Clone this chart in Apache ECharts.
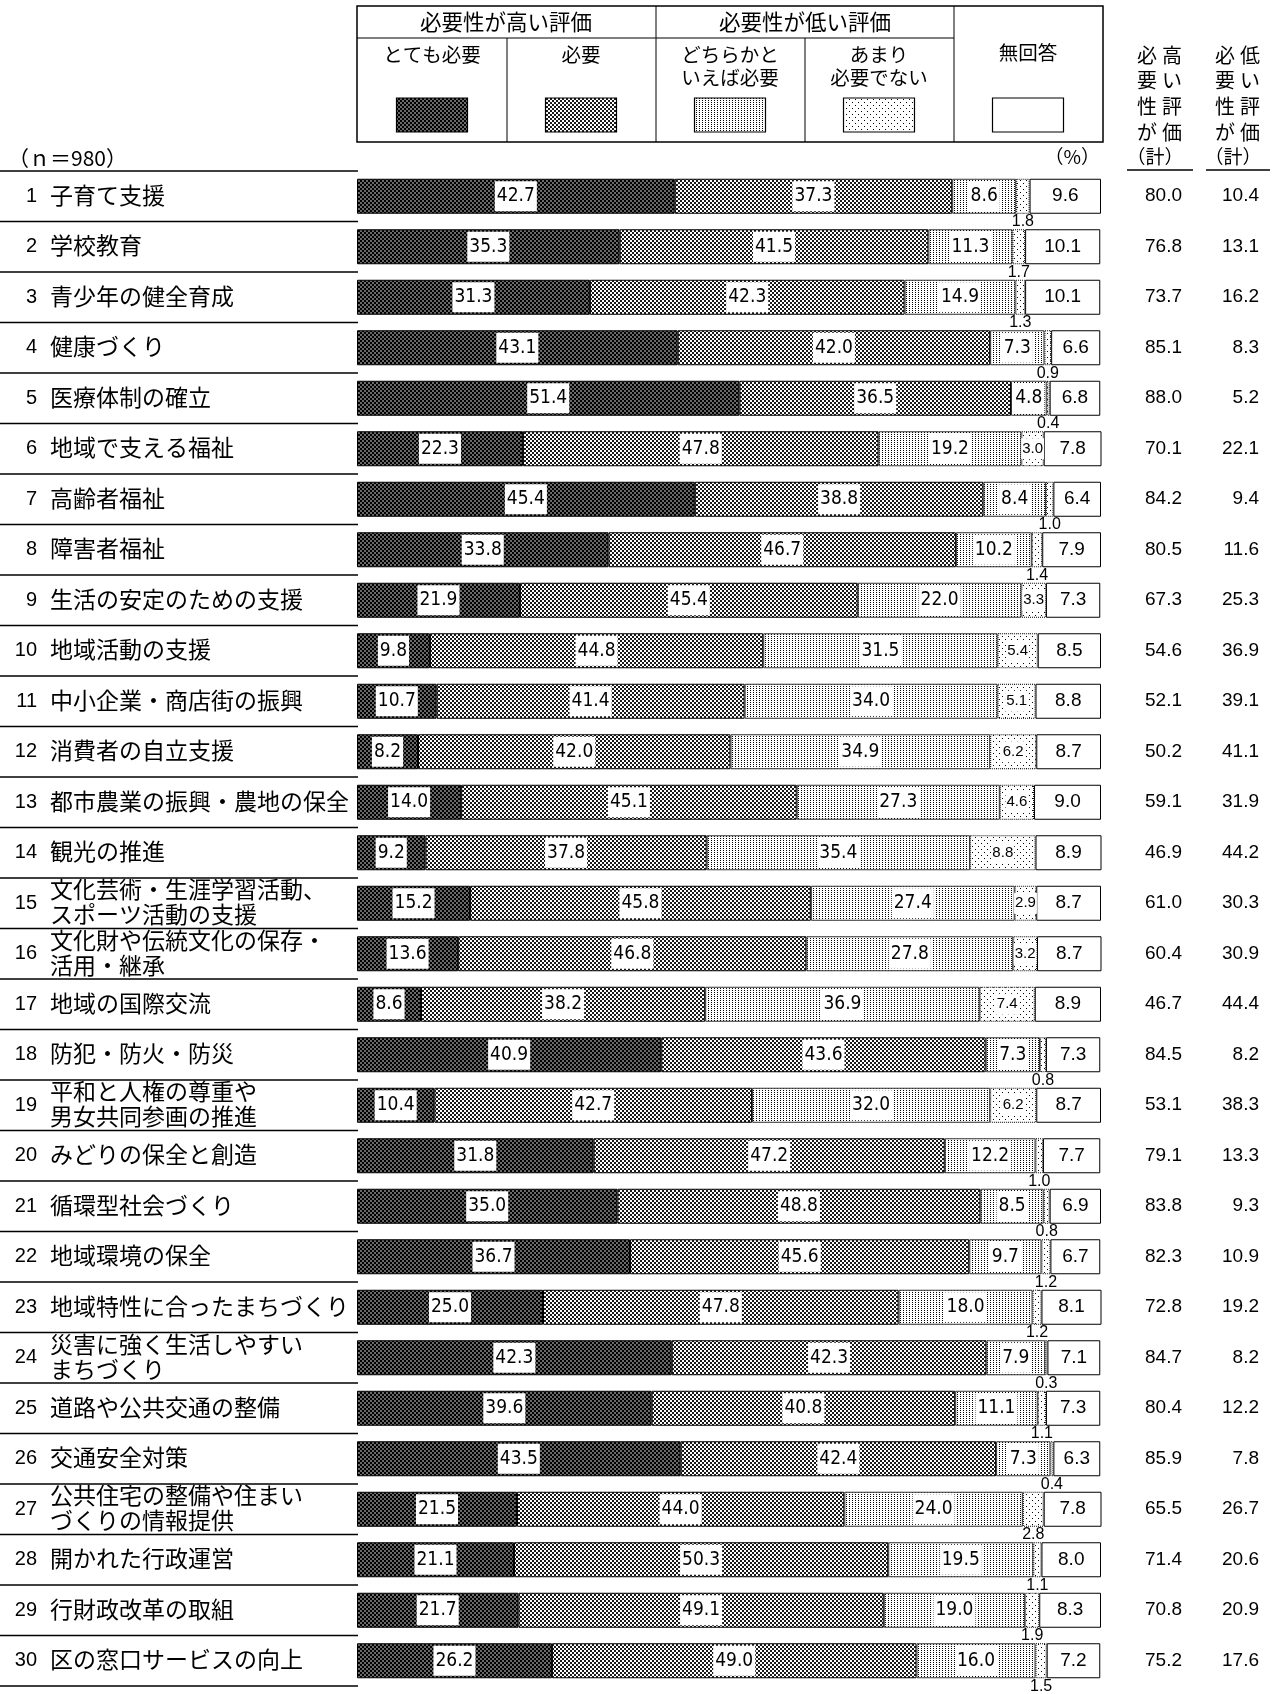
<!DOCTYPE html>
<html>
<head>
<meta charset="utf-8">
<script src="https://cdn.jsdelivr.net/npm/echarts@6/dist/echarts.min.js"></script>
<style>
html,body{margin:0;padding:0;background:#fff;}
#chart{width:1272px;height:1694px;}
</style>
</head>
<body>
<div id="chart"></div>
<script>
// ---------- data ----------
const categories = [
  '子育て支援','学校教育','青少年の健全育成','健康づくり','医療体制の確立',
  '地域で支える福祉','高齢者福祉','障害者福祉','生活の安定のための支援','地域活動の支援',
  '中小企業・商店街の振興','消費者の自立支援','都市農業の振興・農地の保全','観光の推進','文化芸術・生涯学習活動、\nスポーツ活動の支援',
  '文化財や伝統文化の保存・\n活用・継承','地域の国際交流','防犯・防火・防災','平和と人権の尊重や\n男女共同参画の推進','みどりの保全と創造',
  '循環型社会づくり','地域環境の保全','地域特性に合ったまちづくり','災害に強く生活しやすい\nまちづくり','道路や公共交通の整備',
  '交通安全対策','公共住宅の整備や住まい\nづくりの情報提供','開かれた行政運営','行財政改革の取組','区の窓口サービスの向上'
];
const rowNumbers = ['1','2','3','4','5','6','7','8','9','10','11','12','13','14','15','16','17','18','19','20','21','22','23','24','25','26','27','28','29','30'];
const seriesNames = ['とても必要','必要','どちらかといえば必要','あまり必要でない','無回答'];
const veryNeeded = [42.7,35.3,31.3,43.1,51.4,22.3,45.4,33.8,21.9,9.8,10.7,8.2,14.0,9.2,15.2,13.6,8.6,40.9,10.4,31.8,35.0,36.7,25.0,42.3,39.6,43.5,21.5,21.1,21.7,26.2];
const needed     = [37.3,41.5,42.3,42.0,36.5,47.8,38.8,46.7,45.4,44.8,41.4,42.0,45.1,37.8,45.8,46.8,38.2,43.6,42.7,47.2,48.8,45.6,47.8,42.3,40.8,42.4,44.0,50.3,49.1,49.0];
const somewhat   = [8.6,11.3,14.9,7.3,4.8,19.2,8.4,10.2,22.0,31.5,34.0,34.9,27.3,35.4,27.4,27.8,36.9,7.3,32.0,12.2,8.5,9.7,18.0,7.9,11.1,7.3,24.0,19.5,19.0,16.0];
const notMuch    = [1.8,1.7,1.3,0.9,0.4,3.0,1.0,1.4,3.3,5.4,5.1,6.2,4.6,8.8,2.9,3.2,7.4,0.8,6.2,1.0,0.8,1.2,1.2,0.3,1.1,0.4,2.8,1.1,1.9,1.5];
const noAnswer   = [9.6,10.1,10.1,6.6,6.8,7.8,6.4,7.9,7.3,8.5,8.8,8.7,9.0,8.9,8.7,8.7,8.9,7.3,8.7,7.7,6.9,6.7,8.1,7.1,7.3,6.3,7.8,8.0,8.3,7.2];
const highTotal  = [80.0,76.8,73.7,85.1,88.0,70.1,84.2,80.5,67.3,54.6,52.1,50.2,59.1,46.9,61.0,60.4,46.7,84.5,53.1,79.1,83.8,82.3,72.8,84.7,80.4,85.9,65.5,71.4,70.8,75.2];
const lowTotal   = [10.4,13.1,16.2,8.3,5.2,22.1,9.4,11.6,25.3,36.9,39.1,41.1,31.9,44.2,30.3,30.9,44.4,8.2,38.3,13.3,9.3,10.9,19.2,8.2,12.2,7.8,26.7,20.6,20.9,17.6];
const xTicks = [0, 100];

// ---------- styles ----------
const CJK = '"Noto Sans CJK JP", "Noto Sans", sans-serif';
const NUM = '"Liberation Sans", Arial, sans-serif';
const NARROW = '"Liberation Sans Narrow", "DejaVu Sans Condensed", "Liberation Sans", sans-serif';

function makePattern(w, h, bg, fg, cells) {
  const c = document.createElement('canvas');
  c.width = w; c.height = h;
  const ctx = c.getContext('2d');
  ctx.fillStyle = bg; ctx.fillRect(0, 0, w, h);
  ctx.fillStyle = fg;
  cells.forEach(r => ctx.fillRect(r[0], r[1], r[2], r[3]));
  return c;
}
const pat = [
  makePattern(4, 4, '#6a6a6a', '#000', [[0,0,2,2],[2,2,2,2]]),
  makePattern(4, 4, '#ffffff', '#1a1a1a', [[0,0,2,2],[2,2,2,2]]),
  makePattern(3, 2, '#ffffff', '#000', [[0,0,1,1]]),
  makePattern(6, 6, '#ffffff', '#000', [[0,0,1,1],[3,3,1,1]]),
  null
];
const fills = pat.map(p => p ? {image: p, repeat: 'repeat'} : '#ffffff');

const boxLabel = {
  show: true, position: 'inside', color: '#000', fontFamily: NARROW, fontSize: 19,
  backgroundColor: '#fff', padding: [6, 2, 5, 2],
  formatter: p => Number(p.value).toFixed(1)
};

function seg4Data(arr) {
  return arr.map(v => {
    if (v <= 2.8) {
      return {value: v, label: {position: 'bottom', distance: 0, backgroundColor: 'transparent',
        padding: 0, fontSize: 16, fontFamily: NUM}};
    }
    return {value: v};
  });
}

const segArrays = [veryNeeded, needed, somewhat, notMuch, noAnswer];
const barSeries = segArrays.map((arr, k) => {
  let label = Object.assign({}, boxLabel);
  let itemStyle = {color: fills[k], borderColor: '#000', borderWidth: 1};
  let data = arr.map(v => ({value: v}));
  if (k === 2) { itemStyle.borderColor = '#333'; }
  if (k === 3) {
    label = Object.assign({}, boxLabel, {fontSize: 15, padding: [3, 1], fontFamily: NUM});
    itemStyle.borderType = 'dotted';
    data = seg4Data(arr);
  }
  if (k === 4) {
    label = Object.assign({}, boxLabel, {backgroundColor: 'transparent', fontFamily: NUM, fontSize: 19, padding: 0});
  }
  return {
    name: seriesNames[k], type: 'bar', stack: 'total', xAxisIndex: 0, yAxisIndex: 0,
    barWidth: 35, data: data, itemStyle: itemStyle, label: label,
    emphasis: {disabled: true}, animation: false
  };
});

// left label column (grid 1)
const leftSeries = {
  type: 'custom', xAxisIndex: 1, yAxisIndex: 1, clip: false, animation: false,
  data: categories.map((c, i) => [0, i]),
  renderItem: function (params, api) {
    const i = params.dataIndex;
    const p = api.coord([0, i]);
    const band = api.size([0, 1])[1];
    const x0 = p[0], y = p[1];
    const children = [];
    children.push({type: 'line', shape: {x1: x0, y1: y - band / 2, x2: x0 + 358, y2: y - band / 2},
      style: {stroke: '#000', lineWidth: 1.5}});
    if (i === categories.length - 1) {
      children.push({type: 'line', shape: {x1: x0, y1: y + band / 2, x2: x0 + 358, y2: y + band / 2},
        style: {stroke: '#000', lineWidth: 1.5}});
    }
    children.push({type: 'text', style: {text: rowNumbers[i], x: x0 + 37, y: y, align: 'right',
      verticalAlign: 'middle', font: '20px ' + NUM, fill: '#000'}});
    const lines = categories[i].split('\n');
    const lh = 25;
    lines.forEach((t, j) => {
      children.push({type: 'text', style: {text: t, x: x0 + 50, y: y + (j - (lines.length - 1) / 2) * lh - 1,
        align: 'left', verticalAlign: 'middle', font: '23px ' + CJK, fill: '#000'}});
    });
    return {type: 'group', children: children};
  }
};

// right totals columns (drawn beside the bars, grid 0)
const totalSeries = {
  type: 'custom', xAxisIndex: 0, yAxisIndex: 0, clip: false, animation: false,
  data: categories.map((c, i) => [100, i]),
  renderItem: function (params, api) {
    const i = params.dataIndex;
    const p = api.coord([100, i]);
    return {type: 'group', children: [
      {type: 'text', style: {text: highTotal[i].toFixed(1), x: p[0] + 81, y: p[1], align: 'right',
        verticalAlign: 'middle', font: '19px ' + NUM, fill: '#000'}},
      {type: 'text', style: {text: lowTotal[i].toFixed(1), x: p[0] + 158, y: p[1], align: 'right',
        verticalAlign: 'middle', font: '19px ' + NUM, fill: '#000'}}
    ]};
  }
};

// ---------- header table ----------
const hdr = [];
const T = (text, x, y, size, align) => hdr.push({type: 'text', style: {text: text, x: x, y: y,
  align: align || 'center', verticalAlign: 'middle', font: size + 'px ' + CJK, fill: '#000'}});
const L = (x1, y1, x2, y2, w) => hdr.push({type: 'line', shape: {x1, y1, x2, y2}, style: {stroke: '#000', lineWidth: w || 1}});
hdr.push({type: 'rect', shape: {x: 357, y: 6, width: 746, height: 136}, style: {fill: 'none', stroke: '#000', lineWidth: 1.5}});
L(357, 38, 954, 38);
L(507, 38, 507, 142); L(656, 6, 656, 142); L(805, 38, 805, 142); L(954, 6, 954, 142);
T('必要性が高い評価', 506, 22, 21.5);
T('必要性が低い評価', 805, 22, 21.5);
const subCenters = [432, 581, 730, 879, 1028];
T('とても必要', subCenters[0], 55, 19.5);
T('必要', subCenters[1], 55, 19.5);
T('どちらかと', subCenters[2], 55, 19.5); T('いえば必要', subCenters[2], 78, 19.5);
T('あまり', subCenters[3], 55, 19.5); T('必要でない', subCenters[3], 78, 19.5);
T('無回答', subCenters[4], 53, 19.5);
subCenters.forEach((cx, k) => {
  hdr.push({type: 'rect', shape: {x: cx - 35.5, y: 98, width: 71, height: 34},
    style: {fill: fills[k], stroke: '#000', lineWidth: 1.2}});
});
hdr.push({type: 'text', style: {text: '（%）', x: 1100, y: 157, align: 'right', verticalAlign: 'middle',
  font: '19px ' + CJK, fill: '#000'}});
hdr.push({type: 'text', style: {text: '（ｎ＝980）', x: 8, y: 158, align: 'left', verticalAlign: 'middle',
  font: '21px ' + CJK, fill: '#000'}});
const vA = ['必','要','性','が'], vB = ['高','い','評','価'], vC = ['必','要','性','が'], vD = ['低','い','評','価'];
[ [vA, 1147], [vB, 1172], [vC, 1225], [vD, 1250] ].forEach(([arr, x]) => {
  arr.forEach((ch, j) => T(ch, x, 55 + j * 25.7, 20));
});
T('（計）', 1155, 157, 19);
T('（計）', 1233, 157, 19);
L(1127, 170, 1193, 170, 1.5);
L(1206, 170, 1270, 170, 1.5);

// ---------- chart ----------
const chart = echarts.init(document.getElementById('chart'), null, {renderer: 'canvas'});
chart.setOption({
  backgroundColor: '#fff',
  animation: false,
  grid: [
    {left: 357, right: 171, top: 171, bottom: 8, containLabel: false},
    {left: 0, width: 357, top: 171, bottom: 8, containLabel: false}
  ],
  xAxis: [
    {type: 'value', gridIndex: 0, min: xTicks[0], max: xTicks[1], show: false},
    {type: 'value', gridIndex: 1, min: 0, max: 1, show: false}
  ],
  yAxis: [
    {type: 'category', gridIndex: 0, data: categories, inverse: true, show: false},
    {type: 'category', gridIndex: 1, data: categories, inverse: true, show: false}
  ],
  series: barSeries.concat([leftSeries, totalSeries]),
  graphic: {elements: hdr}
});
</script>
</body>
</html>
